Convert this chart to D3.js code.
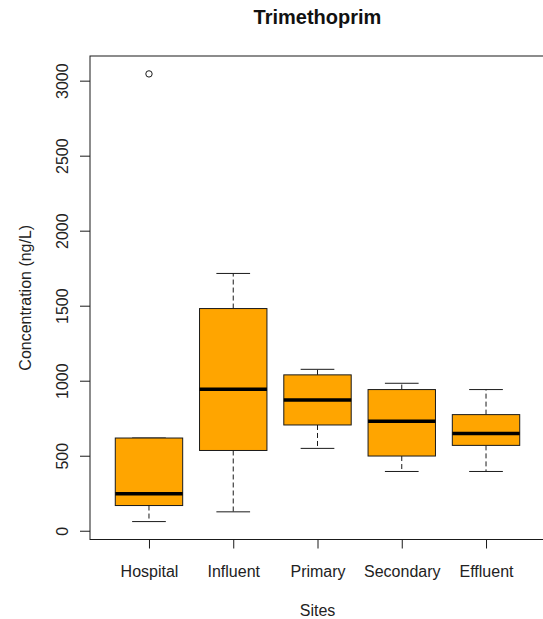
<!DOCTYPE html>
<html>
<head>
<meta charset="utf-8">
<script src="https://cdn.jsdelivr.net/npm/d3@7"></script>
<style>
  html, body { margin: 0; padding: 0; background: #fff; }
  svg { display: block; font-family: "Liberation Sans", Arial, sans-serif; }
</style>
</head>
<body>
<svg id="chart" width="543" height="619"></svg>
<script>
// Trimethoprim concentrations (ng/L) by sampling site: box-plot summaries
const sites        = ["Hospital", "Influent", "Primary", "Secondary", "Effluent"];
const lowWhisker   = [61, 126, 549, 395, 395];
const q1           = [168, 535, 705, 498, 569];
const medians      = [246, 943, 872, 729, 649];
const q3           = [618, 1481, 1039, 941, 774];
const highWhisker  = [618, 1715, 1076, 983, 941];
const outlierSite  = ["Hospital"];
const outlierValue = [3045];
const yTicks       = [0, 500, 1000, 1500, 2000, 2500, 3000];

const svg = d3.select("#chart");
const plot = { left: 90, right: 545, top: 56, bottom: 539.5 };

// Positions 1..n with a 4% pad on each side of [0.5, n + 0.5]
const n = sites.length;
const xSpan = n;
const x = d3.scaleLinear()
  .domain([0.5 - 0.04 * xSpan, n + 0.5 + 0.04 * xSpan])
  .range([plot.left, plot.right]);
const pos = s => sites.indexOf(s) + 1;

const allVals = lowWhisker.concat(highWhisker, outlierValue);
const yMin = d3.min(allVals), yMax = d3.max(allVals);
const yPad = 0.04 * (yMax - yMin);
const y = d3.scaleLinear()
  .domain([yMin - yPad, yMax + yPad])
  .range([plot.bottom, plot.top]);

const halfBox = 0.4, halfCap = 0.2;
const ink = "#1a1a1a";

const boxes = sites.map((s, i) => ({
  site: s, lo: lowWhisker[i], q1: q1[i], med: medians[i], q3: q3[i], hi: highWhisker[i]
}));

const g = svg.append("g");

// whiskers (dashed) and caps
boxes.forEach(d => {
  const cx = x(pos(d.site));
  if (d.hi > d.q3) {
    g.append("line").attr("x1", cx).attr("x2", cx)
      .attr("y1", y(d.q3)).attr("y2", y(d.hi))
      .attr("stroke", ink).attr("stroke-dasharray", "5,3");
  }
  g.append("line").attr("x1", cx).attr("x2", cx)
    .attr("y1", y(d.q1)).attr("y2", y(d.lo))
    .attr("stroke", ink).attr("stroke-dasharray", "5,3");
  [d.lo, d.hi].forEach(v => {
    g.append("line")
      .attr("x1", x(pos(d.site) - halfCap)).attr("x2", x(pos(d.site) + halfCap))
      .attr("y1", y(v)).attr("y2", y(v))
      .attr("stroke", ink);
  });
});

// boxes
g.selectAll("rect.box").data(boxes).join("rect")
  .attr("class", "box")
  .attr("x", d => x(pos(d.site) - halfBox))
  .attr("width", d => x(pos(d.site) + halfBox) - x(pos(d.site) - halfBox))
  .attr("y", d => y(d.q3))
  .attr("height", d => y(d.q1) - y(d.q3))
  .attr("fill", "orange")
  .attr("stroke", ink).attr("stroke-width", 1);

// medians
g.selectAll("line.med").data(boxes).join("line")
  .attr("class", "med")
  .attr("x1", d => x(pos(d.site) - halfBox))
  .attr("x2", d => x(pos(d.site) + halfBox))
  .attr("y1", d => y(d.med)).attr("y2", d => y(d.med))
  .attr("stroke", "#000").attr("stroke-width", 3.5);

// outliers
g.selectAll("circle.out").data(outlierValue).join("circle")
  .attr("class", "out")
  .attr("cx", (v, i) => x(pos(outlierSite[i])))
  .attr("cy", v => y(v))
  .attr("r", 3.2)
  .attr("fill", "none").attr("stroke", ink).attr("stroke-width", 1);

// plot frame
svg.append("rect")
  .attr("x", plot.left).attr("y", plot.top)
  .attr("width", plot.right - plot.left).attr("height", plot.bottom - plot.top)
  .attr("fill", "none").attr("stroke", ink).attr("stroke-width", 1);

// y axis
const yAxis = svg.append("g")
  .attr("transform", `translate(${plot.left},0)`)
  .call(d3.axisLeft(y).tickValues(yTicks).tickSize(10).tickFormat(d3.format("d")));
yAxis.select(".domain").remove();
yAxis.selectAll(".tick line").attr("stroke", ink);
yAxis.selectAll(".tick text")
  .attr("x", null).attr("dy", null)
  .attr("transform", "translate(-22,0) rotate(-90)")
  .attr("text-anchor", "middle")
  .attr("font-size", 16).attr("font-family", "Liberation Sans, Arial, sans-serif")
  .attr("fill", "#222");

// x axis
const xAxis = svg.append("g")
  .attr("transform", `translate(0,${plot.bottom})`)
  .call(d3.axisBottom(x).tickValues(sites.map((s, i) => i + 1))
    .tickFormat((d, i) => sites[i]).tickSize(9));
xAxis.select(".domain").remove();
xAxis.selectAll(".tick line").attr("stroke", ink);
xAxis.selectAll(".tick text")
  .attr("y", 37).attr("dy", null)
  .attr("font-size", 16).attr("font-family", "Liberation Sans, Arial, sans-serif")
  .attr("fill", "#222");

// titles
svg.append("text")
  .attr("x", (plot.left + plot.right) / 2).attr("y", 24)
  .attr("text-anchor", "middle")
  .attr("font-size", 20).attr("font-weight", "bold")
  .attr("fill", "#111")
  .text("Trimethoprim");

svg.append("text")
  .attr("x", (plot.left + plot.right) / 2).attr("y", 616)
  .attr("text-anchor", "middle")
  .attr("font-size", 16).attr("fill", "#222")
  .text("Sites");

svg.append("text")
  .attr("transform", `translate(31,${(plot.top + plot.bottom) / 2}) rotate(-90)`)
  .attr("text-anchor", "middle")
  .attr("font-size", 16).attr("fill", "#222")
  .text("Concentration (ng/L)");
</script>
</body>
</html>
